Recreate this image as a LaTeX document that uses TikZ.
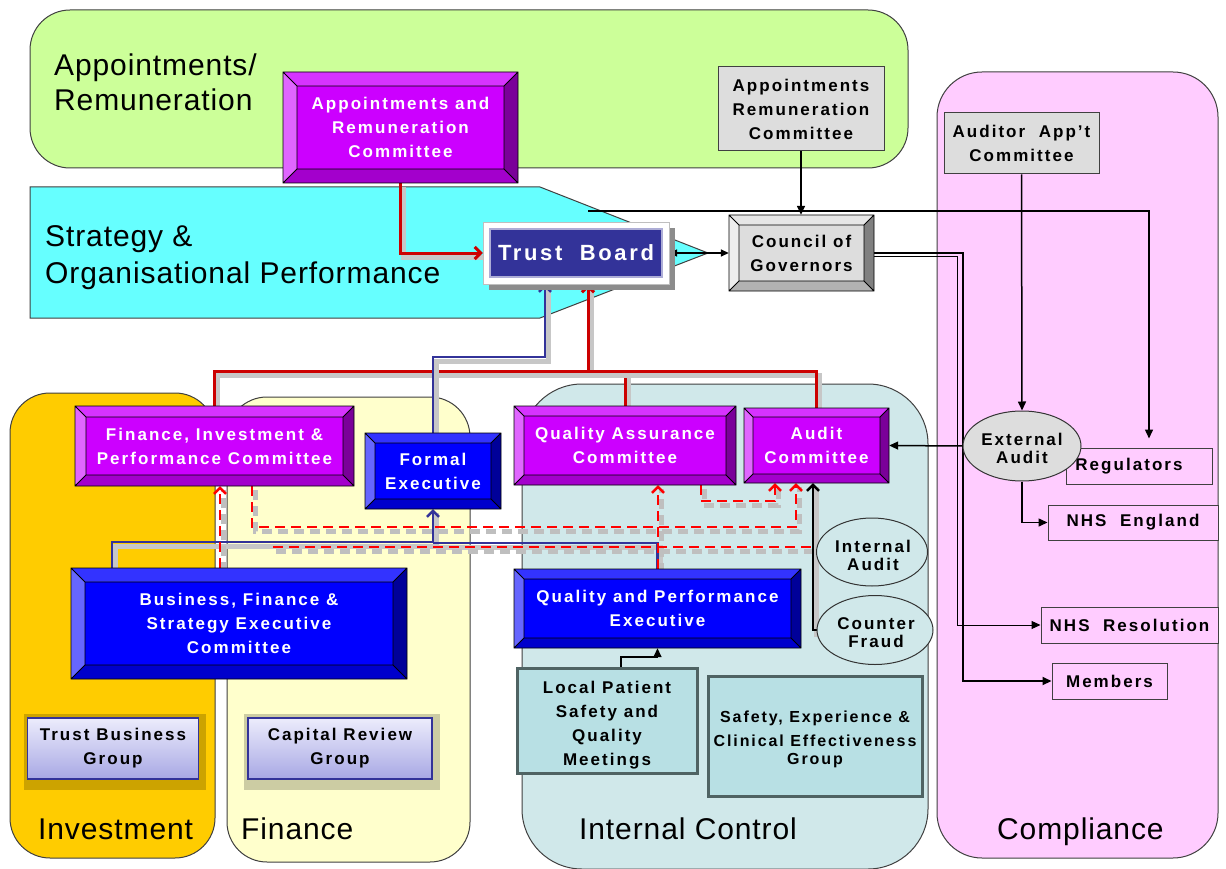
\documentclass[tikz,border=0pt]{standalone}
\usepackage{fontspec}
\setmainfont{Liberation Sans}
\newfontfamily\bfnt{Liberation Sans}[LetterSpace=12]
\newfontfamily\rfnt{Liberation Sans}[LetterSpace=3]
\usetikzlibrary{arrows.meta,shapes.geometric}
\pgfdeclarelayer{regions}
\pgfdeclarelayer{conn}
\pgfsetlayers{regions,conn,main}
\definecolor{gA}{HTML}{CCFF99}
\definecolor{cyA}{HTML}{66FFFF}
\definecolor{pkA}{HTML}{FFCCFF}
\definecolor{orA}{HTML}{FFCC00}
\definecolor{yeA}{HTML}{FFFFCC}
\definecolor{icA}{HTML}{D0E8EA}
\definecolor{magF}{HTML}{CC00FF}
\definecolor{magT}{HTML}{D633FF}
\definecolor{magL}{HTML}{E066FF}
\definecolor{magR}{HTML}{7A0099}
\definecolor{magB}{HTML}{A300CC}
\definecolor{bluF}{HTML}{0000FF}
\definecolor{bluT}{HTML}{3333FF}
\definecolor{bluL}{HTML}{6666FF}
\definecolor{bluR}{HTML}{000099}
\definecolor{bluB}{HTML}{0000CC}
\definecolor{gryF}{HTML}{DDDDDD}
\definecolor{gryT}{HTML}{E6E6E6}
\definecolor{gryL}{HTML}{EEEEEE}
\definecolor{gryR}{HTML}{808080}
\definecolor{gryB}{HTML}{B2B2B2}
\definecolor{navy}{HTML}{333399}
\definecolor{redS}{HTML}{CC0000}
\definecolor{redD}{HTML}{FF0000}
\definecolor{tealbox}{HTML}{B8E0E4}
\definecolor{tealedge}{HTML}{4F6363}
\definecolor{grpT}{HTML}{ECECFC}
\definecolor{grpB}{HTML}{A8A8E4}
\newcommand\bevbox[9]{%
 \fill[#7T] (#2,#3) -- (#4,#3) -- (#4-#6,#3+#6) -- (#2+#6,#3+#6) -- cycle;
 \fill[#7B] (#2,#5) -- (#4,#5) -- (#4-#6,#5-#6) -- (#2+#6,#5-#6) -- cycle;
 \fill[#7L] (#2,#3) -- (#2+#6,#3+#6) -- (#2+#6,#5-#6) -- (#2,#5) -- cycle;
 \fill[#7R] (#4,#3) -- (#4-#6,#3+#6) -- (#4-#6,#5-#6) -- (#4,#5) -- cycle;
 \fill[#7F] (#2+#6,#3+#6) rectangle (#4-#6,#5-#6);
 \draw[bevline] (#2,#3) rectangle (#4,#5) (#2+#6,#3+#6) rectangle (#4-#6,#5-#6)
   (#2,#3) -- (#2+#6,#3+#6) (#4,#3) -- (#4-#6,#3+#6) (#2,#5) -- (#2+#6,#5-#6) (#4,#5) -- (#4-#6,#5-#6);
 \node[btxt, text=#8, inner sep=0pt, minimum width={(#4-#2)*1pt}, minimum height={(#5-#3)*1pt}] (#1) at ({(#2+#4)/2},{(#3+#5)/2}) {#9};
}
\begin{document}
\begin{tikzpicture}[x=1pt,y=-1pt,
  region/.style={draw=black!75, line width=1pt},
  lbl/.style={anchor=base west, inner sep=0pt, font=\rfnt\fontsize{30}{36}\selectfont},
  btxt/.style={font=\bfnt\bfseries\fontsize{17}{24}\selectfont, align=center},
  etxt/.style={font=\bfnt\bfseries\fontsize{17}{18}\selectfont, align=center, inner sep=0pt},
  bevline/.style={draw=black, line width=0.8pt},
  plainbox/.style={draw=black!75, line width=1pt, btxt, text=black, inner sep=0pt},
  ell/.style={ellipse, draw=black!80, line width=1pt, inner sep=0pt},
  shd/.style={preaction={draw=black!22, line width=5pt, -, transform canvas={xshift=3pt,yshift=-4pt}}},
  shdd/.style={preaction={draw=black!25, line width=5pt, -, dash pattern=on 10pt off 6pt, transform canvas={xshift=3pt,yshift=-4pt}}},
  rs/.style={draw=redS, line width=3pt, shd},
  rd/.style={draw=redD, line width=2.5pt, dash pattern=on 10pt off 6pt, shdd},
  bl/.style={draw=navy, line width=2.5pt, shd},
  kthin/.style={draw=black, line width=1.5pt},
  kfine/.style={draw=black, line width=1pt},
  kmid/.style={draw=black, line width=2pt},
  kthick/.style={draw=black, line width=2.5pt, shd},
  chev/.style={-{Straight Barb[length=6pt,width=12pt]}},
  tri/.style={-{Triangle[length=9pt,width=8pt]}}
]
\begin{pgfonlayer}{regions}
\useasboundingbox (0,0) rectangle (1226,869);
\fill[white] (0,0) rectangle (1226,869);
\draw[region, fill=gA, rounded corners=40pt] (30,10) rectangle (908,168);
\draw[region, fill=cyA] (30,187) -- (540,187) -- (708,253) -- (540,318) -- (30,318) -- cycle;
\draw[region, fill=pkA, rounded corners=45pt] (937,72) rectangle (1218,858);
\draw[region, fill=orA, rounded corners=40pt] (10,393) rectangle (215,858);
\draw[region, fill=yeA, rounded corners=40pt] (227,397) rectangle (470,862);
\draw[region, fill=icA, rounded corners=60pt] (522,384) rectangle (928,869);
\node[lbl] (lapp1) at (54,76) {Appointments/};
\node[lbl] (lapp2) at (54,111) {Remuneration};
\node[lbl] (lstr1) at (45,247) {Strategy \&};
\node[lbl] (lstr2) at (45,283) {Organisational Performance};
\node[lbl] (linv) at (38,839) {Investment};
\node[lbl] (lfin) at (241,839) {Finance};
\node[lbl] (lic) at (579,839) {Internal Control};
\node[lbl] (lcomp) at (997,839) {Compliance};
\end{pgfonlayer}

% Trust Board
\fill[black!45] (489,228) rectangle (675,290);
\filldraw[fill=white, draw=black!25] (483,222) rectangle (669,284);
\filldraw[fill=navy, draw=navy!40!white, line width=1.5pt] (490,229) rectangle (662,277);
\node[btxt, text=white, font=\bfnt\bfseries\fontsize{22}{26}\selectfont, minimum width=186pt, minimum height=62pt, inner sep=0pt] (tb) at (576,253) {Trust\ \ Board};

% bevelled boxes
\bevbox{arc}{283}{72}{518}{183}{14}{mag}{white}{Appointments and\\Remuneration\\Committee}
\bevbox{council}{729}{215}{874}{291}{10}{gry}{black}{Council of\\Governors}
\bevbox{fipc}{75}{406}{354}{486}{11}{mag}{white}{Finance, Investment \&\\Performance Committee}
\bevbox{fe}{365}{433}{501}{509}{10}{blu}{white}{Formal\\Executive}
\bevbox{qac}{514}{406}{736}{485}{10}{mag}{white}{Quality Assurance\\Committee}
\bevbox{ac}{744}{408}{889}{483}{9}{mag}{white}{Audit\\Committee}
\bevbox{bfsec}{71}{568}{407}{679}{14}{blu}{white}{Business, Finance \&\\Strategy Executive\\Committee}
\bevbox{qpe}{514}{569}{801}{648}{10}{blu}{white}{Quality and Performance\\Executive}

% plain boxes
\node[plainbox, fill=gryF, minimum width=166pt, minimum height=84pt] (arc2) at (801,109) {Appointments\\Remuneration\\Committee};
\node[plainbox, fill=gryF, minimum width=155pt, minimum height=61pt] (aac) at (1021.5,143.5) {Auditor\ \ App’t\\Committee};
\node[plainbox, fill=pkA, minimum width=146pt, minimum height=36pt] (reg) at (1139,466) {\hspace*{-20pt}Regulators};
\node[plainbox, fill=pkA, minimum width=170pt, minimum height=35pt] (nhse) at (1133,522.5) {NHS\ \ England};
\node[plainbox, fill=pkA, minimum width=177pt, minimum height=36pt] (nres) at (1129.5,625) {NHS\ \ Resolution};
\node[plainbox, fill=pkA, minimum width=115pt, minimum height=36pt] (mem) at (1109.5,681) {Members};

% ellipses
\node[ell, fill=gryF, minimum width=118pt, minimum height=70pt] (ea) at (1022,446) {};
\node[etxt] (eat) at (1022,448) {External\\Audit};
\node[ell, fill=icA, minimum width=111pt, minimum height=68pt] (ia) at (872,552) {};
\node[etxt] (iat) at (873,555) {Internal\\Audit};
\node[ell, fill=icA, minimum width=116pt, minimum height=69pt] (cf) at (875,630) {};
\node[etxt] (cft) at (876,633) {Counter\\Fraud};

% teal boxes
\node[draw=tealedge, line width=3pt, fill=tealbox, minimum width=180pt, minimum height=105pt, inner sep=0pt] (lp) at (607,720.5) {};
\node[btxt, inner sep=0pt] (lpt) at (607,725) {Local Patient\\Safety and\\Quality\\Meetings};
\node[draw=tealedge, line width=3pt, fill=tealbox, minimum width=214pt, minimum height=120pt, inner sep=0pt] (secg) at (815,736) {};
\node[btxt, font=\bfnt\bfseries\fontsize{16}{24}\selectfont, inner sep=0pt] (secgt) at (815,739) {Safety, Experience \&\\Clinical Effectiveness\\[-6pt]Group};

% group boxes
\fill[black, opacity=0.2] (24,714) rectangle (206,790);
\fill[black, opacity=0.2] (244,714) rectangle (440,790);
\node[draw=navy, line width=1.2pt, top color=grpT, bottom color=grpB, btxt, text=black, minimum width=171pt, minimum height=61pt, inner sep=0pt] (tbg) at (113,748.5) {Trust Business\\Group};
\node[draw=navy, line width=1.2pt, top color=grpT, bottom color=grpB, btxt, text=black, minimum width=184pt, minimum height=61pt, inner sep=0pt] (crg) at (340,748.5) {Capital Review\\Group};

\begin{pgfonlayer}{conn}
% red solid
\draw[rs, chev] (arc.south) |- (tb.west);
\coordinate (rj) at (588,371);
\draw[rs, chev] (fipc.north) |- (rj) -- (rj |- tb.south);
\draw[rs] (qac.north) |- (rj);
\draw[rs] (ac.north) |- (rj);
% blue
\coordinate (bj) at (545,357);
\draw[bl, chev] (fe.north) |- (bj) -- (bj |- tb.south);
\coordinate (b1) at (112,542);
\draw[bl, chev] (b1 |- bfsec.north) -- (b1) -| (fe.south);
\coordinate (b2) at (657,543);
\draw[bl] (qpe.north) |- (fe.south |- b2);
% red dashed
\coordinate (d1) at (220,527);
\draw[rd, chev] (d1 |- bfsec.north) -- (d1 |- fipc.south);
\coordinate (d2) at (252,527);
\coordinate (d3) at (796,527);
\draw[rd, chev] (d2 |- fipc.south) -- (d2) -- (d3) -- (d3 |- ac.south);
\coordinate (d4) at (701,501);
\coordinate (d5) at (775,501);
\draw[rd, chev] (d4 |- qac.south) -- (d4) -- (d5) -- (d5 |- ac.south);
\coordinate (d6) at (658,547);
\draw[rd, chev] (d6 |- qpe.north) -- (d6 |- qac.south);
\coordinate (d7) at (273,547);
\coordinate (d8) at (813,547);
\draw[rd] (d7) -- (d8);
% black thick
\coordinate (k1) at (813,630);
\draw[kthick, chev] (cf.west) -- (k1) -- (k1 |- ac.south);
% black thin
\draw[kthin, tri] (arc2.south) -- (arc2.south |- council.north);
\draw[kthin, {Triangle[length=8pt,width=7pt]}-{Triangle[length=8pt,width=7pt]}] (tb.east) -- (council.west);
\coordinate (t0) at (588,211);
\coordinate (t1) at (1149,211);
\draw[kthin, tri, shorten >=9pt] (t0) -- (t1) -- (t1 |- reg.north);
\coordinate (c1) at (963,253);
\draw[kmid, tri] (council.east) -- (c1) |- (mem.west);
\coordinate (c2) at (957,256);
\draw[kfine, tri] (council.east |- c2) -- (c2) |- (nres.west);
\draw[kthin, tri] (aac.south) -- (ea.north);
\draw[kthin, tri] (ea.west) -- (ac.east);
\draw[kthin, tri] (ea.south) |- (nhse.west);
\coordinate (l1) at (621,657);
\draw[kthin, tri] (l1 |- lp.north) -- (l1) -| (qpe.south);
\end{pgfonlayer}
\end{tikzpicture}
\end{document}
